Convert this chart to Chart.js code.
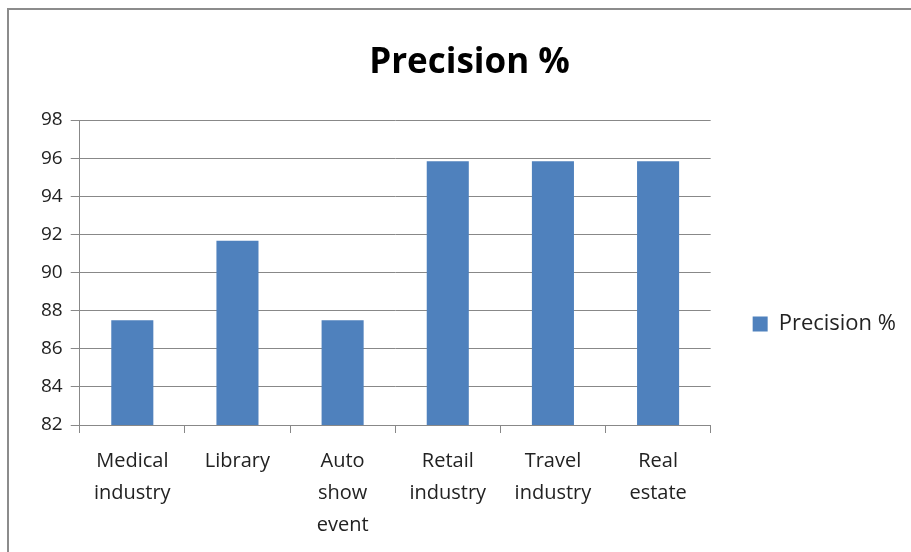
<html>
<head>
	<title>Precision %</title>
	<script src="https://cdn.jsdelivr.net/npm/chart.js"></script>
	<style>
		body { margin: 0; background: #fff; }
		.frame { position: absolute; left: 7px; top: 8px; width: 1000px; height: 1000px; border: 2px solid #8c8c8c; }
		.chart { position: absolute; left: 0; top: 0; width: 911px; height: 552px; }
	</style>
</head>
<body>
	<div class="frame"></div>
	<div class="chart">
		<canvas id="precisionChart"></canvas>
	</div>
</body>
<script>
	const categories = [
		['Medical', 'industry'],
		['Library'],
		['Auto', 'show', 'event'],
		['Retail', 'industry'],
		['Travel', 'industry'],
		['Real', 'estate'],
	];
	const precision = [87.5, 91.67, 87.5, 95.83, 95.83, 95.83];
	const yTicks = [82, 84, 86, 88, 90, 92, 94, 96, 98];

	const font = '"Open Sans", Lato, sans-serif';

	const precisionChart = new Chart(
		document.getElementById('precisionChart'),
		{
			type: 'bar',
			data: {
				labels: categories,
				datasets: [{
					label: 'Precision %',
					data: precision,
					backgroundColor: '#4f81bd',
					barPercentage: 0.4,
					categoryPercentage: 1
				}]
			},
			options: {
				responsive: true,
				maintainAspectRatio: false,
				animation: false,
				layout: { padding: { left: 33, right: 5, top: 0, bottom: -1 } },
				plugins: {
					title: {
						display: true,
						text: 'Precision %',
						color: '#000',
						font: { family: font, size: 35, weight: 'bold' },
						padding: { top: 42, bottom: 36 }
					},
					legend: {
						position: 'right',
						title: { display: true, text: ' ', font: { size: 4 }, padding: { top: 90, bottom: 0 } },
						labels: {
							color: '#222',
							font: { family: font, size: 22 },
							boxWidth: 15,
							boxHeight: 15,
							padding: 42
						}
					},
					tooltip: { enabled: false }
				},
				scales: {
					x: {
						grid: { drawOnChartArea: false, drawTicks: true, tickLength: 8, color: '#888', offset: true },
						border: { color: '#888', width: 1 },
						ticks: { color: '#222', font: { family: font, size: 20, lineHeight: 1.6 }, maxRotation: 0, autoSkip: false, padding: 12 }
					},
					y: {
						min: 82,
						max: 98,
						afterBuildTicks: (axis) => { axis.ticks = yTicks.map(v => ({ value: v })); },
						grid: { color: '#888', tickLength: 9 },
						border: { color: '#888', width: 1 },
						ticks: { color: '#222', font: { family: font, size: 19 }, padding: 8 }
					}
				}
			}
		}
	);
</script>
</html>
